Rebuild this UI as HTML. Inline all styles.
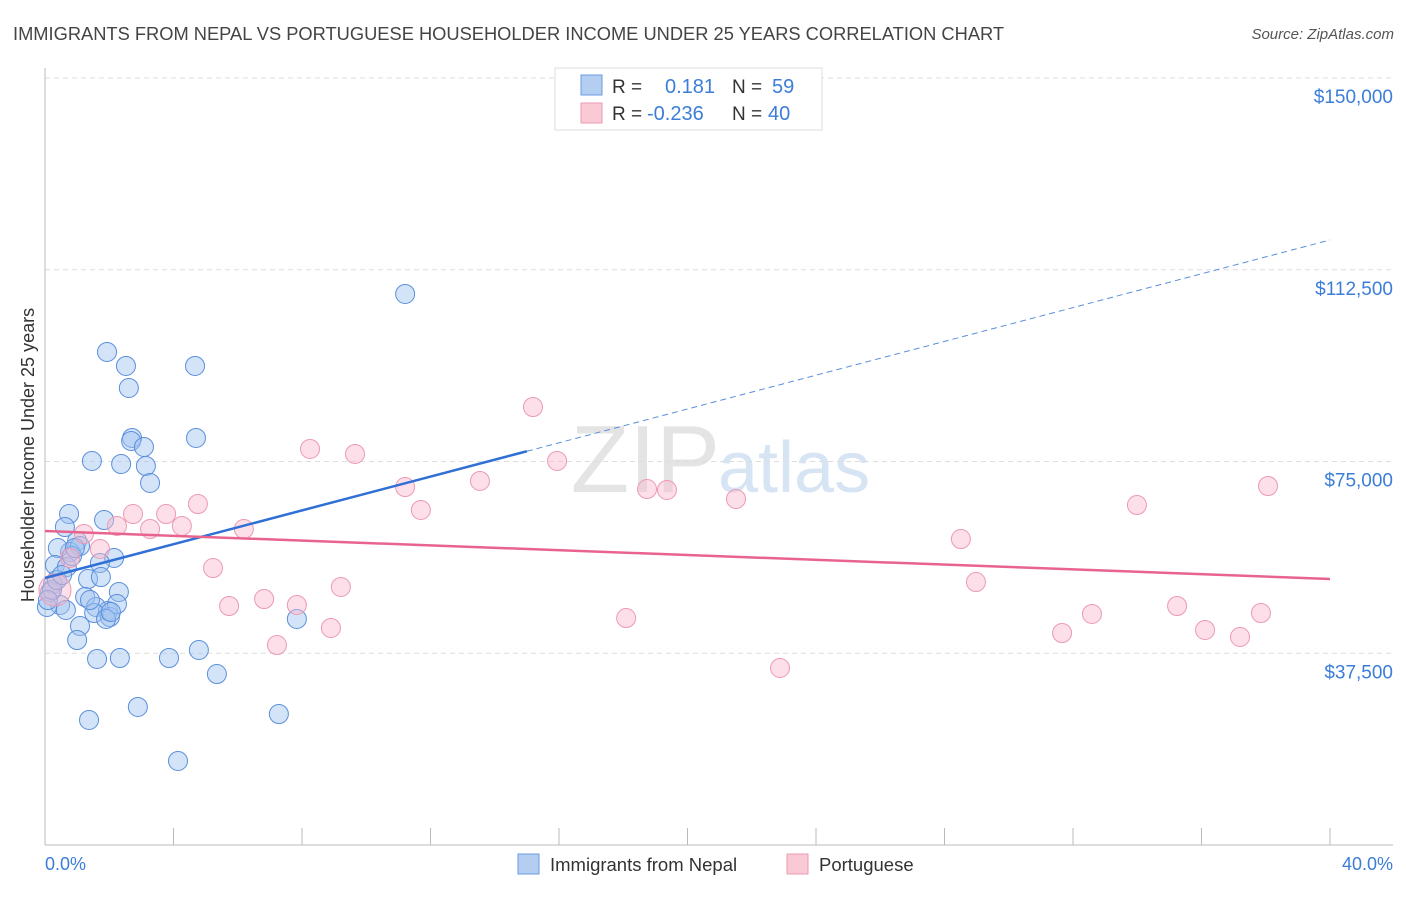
<!DOCTYPE html>
<html><head><meta charset="utf-8"><style>
body{margin:0;background:#fff;font-family:"Liberation Sans",sans-serif;}
svg text{font-family:"Liberation Sans",sans-serif;}
</style></head><body>
<svg id="chart" width="1406" height="892">
<text x="13" y="40" font-size="18.3" fill="#444">IMMIGRANTS FROM NEPAL VS PORTUGUESE HOUSEHOLDER INCOME UNDER 25 YEARS CORRELATION CHART</text>
<text x="1394" y="39" font-size="15" fill="#555" font-style="italic" text-anchor="end">Source: ZipAtlas.com</text>
<text x="720" y="492" font-size="96" fill="#e4e4e4" text-anchor="end" font-family="Liberation Serif">ZIP</text>
<text x="718" y="492" font-size="72" fill="#d6e4f4">atlas</text>
<g id="grid"></g><g id="axes"></g><g id="pts"></g><g id="lines"></g>
<text transform="translate(34,455) rotate(-90)" font-size="18" fill="#333" text-anchor="middle">Householder Income Under 25 years</text>
<text x="45" y="870" font-size="18" fill="#3b7dd8">0.0%</text>
<text x="1393" y="870" font-size="18" fill="#3b7dd8" text-anchor="end">40.0%</text>
<g>
<rect x="555" y="68" width="267" height="62" fill="#fff" stroke="#ddd"/>
<rect x="581" y="75" width="21" height="20" fill="#b4cef2" stroke="#6a9ae0"/>
<rect x="581" y="103" width="21" height="20" fill="#f9c9d6" stroke="#ec9ab2"/>
<text x="612" y="93" font-size="19" fill="#333">R =</text><text x="665" y="93" font-size="20" fill="#3b7dd8">0.181</text>
<text x="732" y="93" font-size="19" fill="#333">N =</text><text x="772" y="93" font-size="20" fill="#3b7dd8">59</text>
<text x="612" y="120" font-size="19" fill="#333">R =</text><text x="647" y="120" font-size="20" fill="#3b7dd8">-0.236</text>
<text x="732" y="120" font-size="19" fill="#333">N =</text><text x="768" y="120" font-size="20" fill="#3b7dd8">40</text>
</g>
<g>
<rect x="518" y="854" width="21" height="20" fill="#b4cef2" stroke="#6a9ae0"/>
<text x="550" y="871" font-size="18.5" fill="#333">Immigrants from Nepal</text>
<rect x="787" y="854" width="21" height="20" fill="#f9c9d6" stroke="#ec9ab2"/>
<text x="819" y="871" font-size="18.5" fill="#333">Portuguese</text>
</g>
</svg>
<script>
const yTicks=[37500,75000,112500,150000];
const yTickLabels=["$37,500","$75,000","$112,500","$150,000"];
const xTicks=[0,4,8,12,16,20,24,28,32,36,40];
const nepalX=[11.21,1.93,2.52,4.67,2.61,2.71,2.68,3.08,4.70,1.46,2.37,3.14,3.27,0.75,0.62,1.84,1.00,0.78,0.40,1.09,0.31,0.68,2.15,1.71,1.34,1.74,0.25,0.16,2.30,1.25,0.47,1.59,1.96,1.53,2.02,2.24,0.06,1.90,2.05,1.09,1.00,7.84,1.62,2.33,3.86,4.79,5.35,2.89,1.37,7.28,4.14,0.22,0.84,0.37,0.53,0.93,1.40,0.65,0.09];
const nepalY=[107760,96420,93680,93680,89380,79600,79010,77840,79600,75100,74510,74120,70800,64730,62190,63560,59450,57300,58080,58480,54760,54370,56130,55150,52020,52410,51040,49480,49480,48500,46940,46550,45760,45370,44590,47130,46550,44200,45570,42830,40090,44200,36380,36570,36570,38140,33440,26990,24450,25620,16430,49870,56520,51830,52800,58080,47910,45960,47910];
const portX=[15.19,8.25,9.65,15.94,11.21,13.54,18.74,19.36,21.51,38.07,33.99,11.70,4.76,2.74,3.77,4.26,3.27,6.19,2.24,1.21,1.71,5.23,28.51,28.98,9.21,5.73,6.82,7.84,8.90,7.22,18.09,22.88,31.66,32.59,35.24,36.11,37.20,37.85,0.31,0.78];
const portY=[85660,77450,76470,75100,70010,71190,69620,69430,67670,70210,66490,65520,66690,64730,64730,62390,61800,61800,62390,60820,57890,54170,59840,51430,50460,46740,48110,46940,42440,39110,44390,34620,41460,45180,46740,42050,40680,45370,49870,56130];
const nepalTrend=[52216,118318];
const portTrend=[61408,52021];
const nepalSolidEnd=15.0;
const NS="http://www.w3.org/2000/svg";
const xs=v=>45+v/40*1285;
const ys=v=>845-v/150000*767;
function mk(t,a,p){const e=document.createElementNS(NS,t);for(const k in a)e.setAttribute(k,a[k]);p.appendChild(e);return e;}
const grid=document.getElementById('grid'),axes=document.getElementById('axes'),pts=document.getElementById('pts'),lines=document.getElementById('lines');
yTicks.forEach((t,i)=>{
 const l=mk('line',{x1:45,x2:1393,y1:ys(t),y2:ys(t),stroke:'#ddd','stroke-dasharray':'5,4'},grid);
 
 
 const tx=mk('text',{x:1393,y:ys(t)+25,'font-size':19,fill:'#3b7dd8','text-anchor':'end'},grid);
 tx.textContent=yTickLabels[i];
 
 
});
const ax=mk('line',{x1:45,x2:45,y1:68,y2:845,stroke:'#bbb'},axes);


const bx=mk('line',{x1:45,x2:1393,y1:845,y2:845,stroke:'#bbb'},axes);


xTicks.forEach(t=>{const l=mk('line',{x1:xs(t),x2:xs(t),y1:828,y2:845,stroke:'#bbb'},axes);
 
 });
nepalX.forEach((x,i)=>{const c=mk('circle',{cx:xs(x),cy:ys(nepalY[i]),r:9.5,fill:'rgba(160,196,240,0.45)',stroke:'#5b8fdc','stroke-width':1},pts);
 
 });
portX.forEach((x,i)=>{const c=mk('circle',{cx:xs(x),cy:ys(portY[i]),r:i==38?16:9.5,fill:'rgba(248,184,204,0.45)',stroke:'#ec9ab2','stroke-width':1},pts);
 
 });
const ny=x=>nepalTrend[0]+(nepalTrend[1]-nepalTrend[0])*x/40;
const l1=mk('line',{x1:xs(0),y1:ys(ny(0)),x2:xs(nepalSolidEnd),y2:ys(ny(nepalSolidEnd)),stroke:'#2f6fd6','stroke-width':2.5},lines);


const l2=mk('line',{x1:xs(nepalSolidEnd),y1:ys(ny(nepalSolidEnd)),x2:xs(40),y2:ys(ny(40)),stroke:'#5b8fdc','stroke-width':1,'stroke-dasharray':'6,4'},lines);


const l3=mk('line',{x1:xs(0),y1:ys(portTrend[0]),x2:xs(40),y2:ys(portTrend[1]),stroke:'#e8648f','stroke-width':2.5},lines);


</script>
</body></html>
